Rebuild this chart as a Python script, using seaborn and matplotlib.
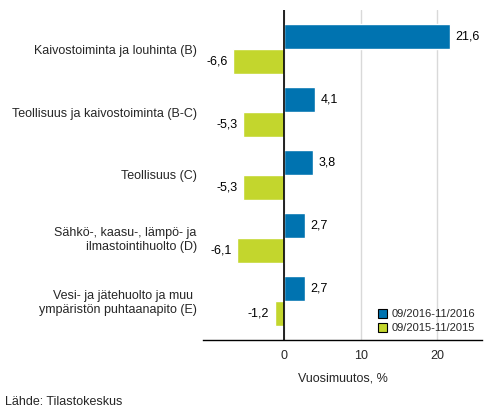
import matplotlib
matplotlib.use("Agg")
import matplotlib.pyplot as plt
import seaborn as sns
import pandas as pd
from matplotlib.patches import Patch

categories = [
    "Kaivostoiminta ja louhinta (B)",
    "Teollisuus ja kaivostoiminta (B-C)",
    "Teollisuus (C)",
    "Sähkö-, kaasu-, lämpö- ja\nilmastointihuolto (D)",
    "Vesi- ja jätehuolto ja muu \nympäristön puhtaanapito (E)",
]
series_names = ["09/2016-11/2016", "09/2015-11/2015"]
values_2016 = [21.6, 4.1, 3.8, 2.7, 2.7]
values_2015 = [-6.6, -5.3, -5.3, -6.1, -1.2]
colors = ["#0073B0", "#C3D62D"]
x_ticks = [0, 10, 20]

sns.set_theme(style="white")
plt.rcParams["font.family"] = ["Liberation Sans", "DejaVu Sans"]

df = pd.DataFrame({
    "cat": categories * 2,
    "series": [series_names[0]] * 5 + [series_names[1]] * 5,
    "value": values_2016 + values_2015,
})

fig = plt.figure(figsize=(4.93, 4.16), dpi=100)
ax = fig.add_axes([203 / 493, 1 - 340 / 416, 279 / 493, 330 / 416])

sns.barplot(data=df, y="cat", x="value", hue="series", palette=colors,
            order=categories, hue_order=series_names, orient="h",
            width=0.8, ax=ax, legend=False, saturation=1)

for container, vals in zip(ax.containers, [values_2016, values_2015]):
    labels = [f"{v:.1f}".replace(".", ",") for v in vals]
    ax.bar_label(container, labels=labels, padding=4, fontsize=9, color="#000000")

ax.set_xlim(-10.55, 25.8)
ax.set_ylim(4.62, -0.62)
ax.set_xticks(x_ticks)
ax.set_xticklabels([str(t) for t in x_ticks], fontsize=9)
ax.tick_params(axis="x", length=0, pad=7)
ax.tick_params(axis="y", length=0, pad=4.5, labelsize=9)
for t in ax.get_yticklabels():
    t.set_horizontalalignment("right")
ax.set_ylabel("")
ax.set_xlabel("Vuosimuutos, %", fontsize=9, labelpad=8)
ax.grid(axis="x", color="#d9d9d9", linewidth=1)
ax.grid(axis="y", visible=False)
ax.set_axisbelow(True)
for s in ["top", "right", "left"]:
    ax.spines[s].set_visible(False)
ax.spines["bottom"].set_color("#000000")
ax.spines["bottom"].set_linewidth(1)
ax.axvline(0, color="#000000", linewidth=1.2, zorder=3)

handles = [Patch(facecolor=c, edgecolor="#000000", linewidth=0.8) for c in colors]
ax.legend(handles, series_names, loc="lower right", frameon=False, fontsize=8,
          handlelength=0.8, handleheight=0.8, handletextpad=0.45, labelspacing=0.35,
          borderaxespad=0.2, bbox_to_anchor=(1.0, 0.0))

fig.text(5 / 493, 1 - 402 / 416, "Lähde: Tilastokeskus", fontsize=9, va="center", ha="left")

fig.savefig("out.png", dpi=100)
